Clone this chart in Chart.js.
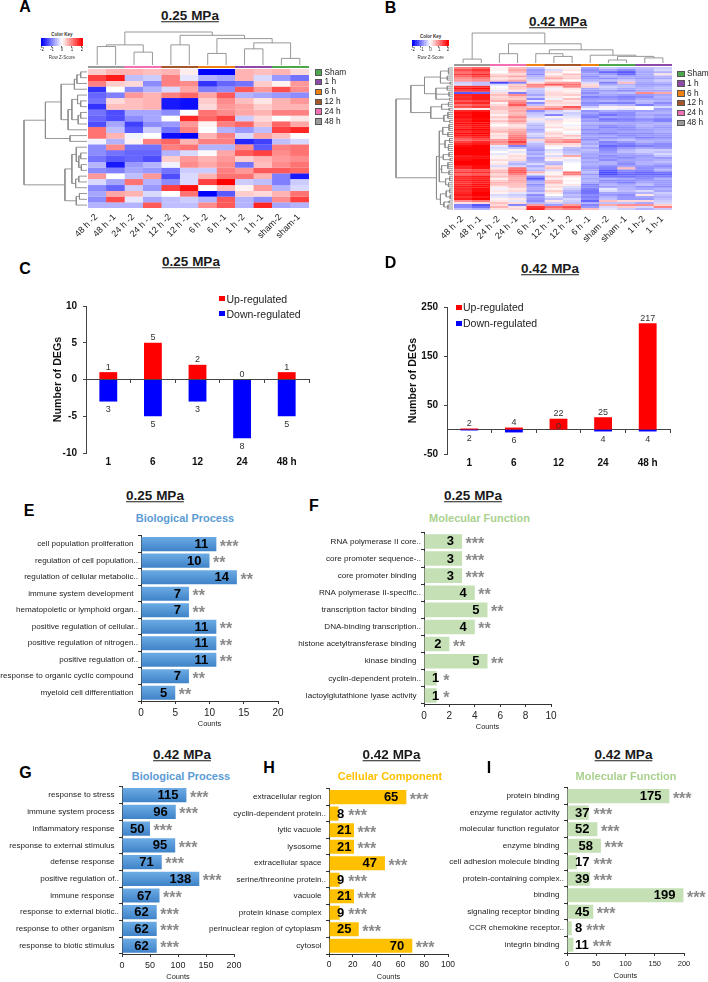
<!DOCTYPE html>
<html>
<head>
<meta charset="utf-8">
<title>DEG figure</title>
<script src="https://cdn.jsdelivr.net/npm/chart.js@4"></script>
<style>
  html, body { margin: 0; padding: 0; background: #fff; }
  #page { position: relative; width: 708px; height: 982px; overflow: hidden; font-family: "Liberation Sans", Arial, sans-serif; color: #111; }
  #page canvas { position: absolute; }
  .txt { position: absolute; white-space: nowrap; line-height: 1; transform: translate(-50%, -50%); }
  .letter { font-size: 16px; font-weight: bold; color: #000; }
  .mpa { font-size: 13.5px; font-weight: bold; text-decoration: underline; color: #1a1a1a; }
  .sub { font-size: 11px; font-weight: bold; }
  .leg { position: absolute; white-space: nowrap; line-height: 1; transform: translateY(-50%); }
  .box { position: absolute; }
</style>
</head>
<body>
<div id="page"></div>
<script>
// ===== Panel A/B heatmaps =====
const columnsA = ['48 h -2', '48 h -1', '24 h -2', '24 h -1', '12 h -2', '12 h -1', '6 h -2', '6 h -1', '1 h -2', '1 h -1', 'sham-2', 'sham-1'];
const groupsA = ['48 h', '48 h', '24 h', '24 h', '12 h', '12 h', '6 h', '6 h', '1 h', '1 h', 'Sham', 'Sham'];
const zScoresA = [
  [0.4, 0.6, 0.6, 0.5, 0.6, 0.15, -2, -2, 0.6, 0.5, 0.6, 0.3],
  [1.5, 1.8, -0.5, -0.4, 1.0, -0.2, -0.6, -0.7, 0.6, -0.3, -0.8, -1.1],
  [1.0, 0.4, 0.3, -0.9, 1.0, 0.9, -1.6, -1.2, -1.1, 0.4, 0.1, 0.8],
  [-1.6, 0, -0.9, -0.6, -0.3, 0.7, -1.0, -0.9, 1.3, 0.8, 1.4, 0.9],
  [-1.2, -1.0, 0.8, 0.6, 1.0, 1.2, 0.7, 1.3, -0.6, -0.7, -0.8, -0.9],
  [-1.1, 0.3, 0.5, 0.6, -1.8, -1.9, 0.4, 0.9, 0.5, 0.2, 0.6, 0.8],
  [-1.6, 0.5, 0.5, 0.6, -1.8, -1.9, 0.3, 0.8, 0.7, 0.4, 0.6, 0.6],
  [-1.1, -1.4, -0.7, -0.7, -0.9, 0, 1.1, 0.9, 0.7, 0.6, 1.0, 1.0],
  [-1.2, -1.4, -0.9, -0.7, 0, 1.7, 1.2, 1.5, -0.4, 0.3, 0, 0.2],
  [-1.4, -0.7, -1.5, -0.9, -0.8, 0.8, 0.1, 1.0, 1.2, 0.5, 1.2, 0.7],
  [1.1, -0.5, -1.3, -0.4, -1.1, 1.0, 0, -0.6, -0.8, -0.5, 1.5, 1.7],
  [1.1, 0.6, -0.1, 0, -1.9, -2, 0.6, 1.0, -0.3, 0.7, 0.5, 0],
  [-0.1, -0.6, 0.1, 1.0, 1.2, 0.6, 1.0, 1.0, -1.7, -1.5, -0.5, -0.3],
  [-0.9, 0.9, -1.1, -1.1, 1.0, 1.1, -0.6, -0.6, 0.9, -1.3, 1.0, 1.1],
  [-0.9, -1.1, -1.2, -1.2, -0.6, -0.3, 0.05, 0.7, 1.3, 1.5, 0.9, 1.1],
  [-1.1, -1.3, -1.2, -1.4, 0.4, 0.8, 0.6, 0.8, 0.4, 0.6, 0.8, 0.9],
  [-0.6, -1.8, -0.8, -0.6, -0.1, 0.9, 0.7, 0.9, -1.1, 0.5, 0.9, 1.1],
  [-0.9, -1.0, -0.7, -0.8, -1.1, -0.4, -0.4, 1.0, 0.8, 1.3, 1.3, 1.2],
  [0.8, 0, -0.5, 0.8, -1.4, -0.3, 0.6, 1.1, 1.1, 0.6, -1.0, -1.8],
  [-0.3, -0.7, 1.1, -0.6, -0.9, -0.3, 1.5, 2, -0.4, -0.5, -1.0, -0.4],
  [-0.9, -1.2, -0.4, -0.8, 1.5, 1.9, 0, 0.5, 0.1, 0.8, -0.6, -0.3],
  [-0.7, 0.7, 0.6, -0.3, 0, 1.1, -2, -1.3, 0.4, 0.3, 0.6, 1.1],
  [-0.9, 1.4, -0.2, -0.7, -0.5, -0.4, -0.6, 1.3, -0.6, -0.9, 0.9, 1.5],
  [-0.6, -0.6, -0.6, 1.3, -0.5, -0.5, 0.9, 1.3, -0.6, 1.7, -0.7, -0.6]
];
const columnsB = ['48 h -2', '48 h -1', '24 h -2', '24 h -1', '6 h -2', '12 h -1', '12 h -2', '6 h -1', 'sham -2', 'sham -1', '1 h-2', '1 h-1'];
const groupsB = ['48 h', '48 h', '24 h', '24 h', '6 h', '12 h', '12 h', '6 h', 'Sham', 'Sham', '1 h', '1 h'];
const zScoresB = [
  [1.0, 1.2, 0.1, 0.5, -0.5, 0.1, 0.1, -0.7, -0.4, -0.5, -0.5, -0.4],
  [1.4, 1.6, 0.1, 0.7, -0.8, -0.3, 0.2, -0.9, -0.7, -0.9, -0.6, -0.3],
  [1.1, 1.3, 0.0, 0.5, -0.7, 0.3, 0.0, -0.8, -1.2, -1.3, -0.7, -0.6],
  [1.5, 1.7, 0.3, 0.3, -0.9, 0.1, 0.5, -0.7, -0.8, -1.2, -0.7, 0.2],
  [1.2, 1.5, 0.5, 0.7, -0.6, 0.4, 0.3, -0.9, -0.6, -0.7, -0.7, -0.6],
  [0.9, 1.1, 0.2, 0.3, -0.5, 0.7, 0.4, -0.8, -0.9, -0.7, -0.8, -0.7],
  [0.8, 0.9, 0.4, 0.7, -0.3, 0.2, 0.0, -0.6, -0.5, -0.4, -0.6, -0.4],
  [-0.4, -0.5, -1.5, -1.0, 0.2, 0.7, 0.8, -0.3, -1.0, 0.5, -0.7, -0.6],
  [-0.3, -0.5, -0.3, 0.4, 1.0, 1.3, 1.1, 0.3, -0.7, -0.6, -0.8, -0.8],
  [1.7, 1.7, 0.0, 0.5, 0.9, 0.3, 1.0, 0.4, -0.4, -0.5, -0.7, -0.6],
  [1.8, 1.9, 0.1, 0.4, -0.4, -0.1, 0.2, -0.7, -0.5, -0.7, -0.6, -0.5],
  [1.5, 1.6, -0.2, 0.2, -0.5, 0.2, 0.1, -0.8, -0.8, -0.9, -0.7, -0.7],
  [-1.3, -1.2, 0.3, -1.0, -0.5, 0.3, 0.2, -0.9, -0.6, -0.5, 0.9, 0.7],
  [1.7, 1.8, 0.5, 0.9, -0.7, 0.3, 0.4, -0.7, -0.7, -0.8, -0.8, -0.7],
  [1.6, 1.8, 0.3, 0.5, -0.4, 0.2, 0.1, -1.0, -0.9, -1.0, -0.9, -0.6],
  [1.7, 1.8, 0.4, 0.4, -0.9, -0.1, 0.5, -0.8, -0.8, -0.9, -0.7, -0.7],
  [1.3, 1.5, 0.6, 0.8, -0.2, 0.4, 0.2, -0.7, -0.6, -0.7, -0.5, -0.6],
  [1.6, 1.7, 0.1, 1.0, -0.9, 0.3, 0.3, -0.9, -1.0, -1.0, -0.6, -0.9],
  [1.1, 1.3, 0.3, 1.3, -0.5, 0.2, 0.2, -0.8, -0.5, -0.6, -1.0, -0.7],
  [1.4, 1.6, 0.5, 0.7, 0.5, 0.7, 1.4, -0.4, 0.1, 0.1, 0.0, -0.3],
  [0.2, 0.1, 0.5, 0.6, 0.9, 1.1, 0.8, -0.1, -0.1, -0.2, 0.0, -0.8],
  [1.8, 1.9, 0.3, 0.7, -0.9, -0.4, -0.2, -0.9, -0.7, -0.8, -0.8, -0.7],
  [1.9, 2.0, 0.3, 0.5, -0.5, -0.3, -0.4, -0.7, -0.9, -0.9, -0.6, -0.6],
  [1.8, 2.0, 0.1, 0.6, -0.4, -1.0, -0.3, -0.9, -1.1, -0.9, -0.7, -0.8],
  [1.9, 2.0, 0.4, 0.9, -0.3, 0.1, -0.2, -1.0, -0.7, -0.8, -0.6, -0.7],
  [1.7, 1.9, 0.2, 0.6, 0.2, -0.3, 0.1, -0.7, -1.1, -1.0, -0.9, -1.0],
  [1.8, 2.0, 0.5, 0.8, -0.2, 0.3, 0.1, -0.8, -0.9, -0.9, -0.8, -1.0],
  [1.9, 2.0, 0.2, 0.5, -0.4, 0.2, 0.0, -0.6, -0.6, -0.7, -0.7, -0.6],
  [1.8, 1.9, 0.0, 0.2, -0.6, 0.1, -0.1, -0.8, -0.9, -0.8, -0.6, -0.7],
  [1.7, 1.9, 0.3, 0.3, -0.5, 0.3, 0.1, -0.7, -1.0, -0.9, -0.7, -0.8],
  [1.9, 2.0, 0.4, 0.6, -0.7, 0.0, 0.2, -0.9, -0.8, -0.9, -0.8, -0.7],
  [1.6, 1.8, 0.6, 0.7, -0.6, 0.2, 0.0, -0.7, -0.8, -0.7, -0.7, -0.6],
  [1.9, 2.0, 0.2, 0.8, -0.3, 0.4, -0.1, -0.9, -1.0, -0.9, -0.9, -0.8],
  [1.8, 1.9, 0.3, 1.0, -0.4, 0.2, 0.5, -0.7, -0.7, -0.9, -0.8, -0.8],
  [1.5, 1.7, 0.2, 1.1, -0.6, 0.5, 0.2, -0.8, -0.9, -0.8, -1.0, -0.9],
  [1.2, 1.4, 0.8, 1.2, 0.4, 0.7, 0.9, -0.9, -0.6, -0.5, -0.7, -0.7],
  [1.5, 1.7, 0.9, 1.5, -0.3, 0.8, 1.0, -0.6, -1.0, -0.8, -0.6, -0.7],
  [1.7, 1.8, 0.7, 1.1, -0.5, 0.4, 0.3, -0.7, -0.9, -1.0, -0.8, -0.9],
  [1.9, 2.0, -0.2, -1.0, -0.6, 0.1, 0.2, -0.5, -1.2, -1.1, -1.0, -0.9],
  [2.0, 2.0, -0.3, -0.5, -0.7, 0.0, -0.5, -0.7, -1.0, -0.8, -0.7, -0.8],
  [2.0, 2.0, -0.2, 0.1, -0.8, -0.3, -0.6, -0.5, -0.9, -0.6, -0.4, -0.4],
  [2.0, 2.0, 0.0, -0.2, -0.6, -0.2, -0.5, -0.6, -0.8, -0.5, -0.4, -0.5],
  [2.0, 2.0, -0.2, 0.1, -0.7, 0.1, -0.4, -0.7, -0.7, -0.7, -0.6, -0.3],
  [1.8, 1.9, 0.1, 0.3, -0.5, -0.3, 0.7, -0.7, -0.9, -0.8, -0.8, -0.5],
  [1.9, 1.9, 0.1, 0.2, -0.8, 0.2, 0.1, -0.8, -0.8, -0.9, -0.7, -0.8],
  [1.9, 2.0, 0.3, 0.3, -0.7, 0.1, -0.2, -0.6, -0.9, -0.7, -0.7, -0.6],
  [2.0, 2.0, 0.1, -0.4, -0.6, -0.5, -0.1, -0.7, -0.6, -0.8, -0.6, -0.5],
  [2.0, 2.0, 0.2, -0.6, -0.3, -0.6, 0.0, -0.6, -0.6, -0.9, -0.6, -0.7],
  [1.7, 1.9, -0.3, -0.3, -0.7, 0.3, 0.0, -0.7, -0.9, -0.7, -0.8, -0.9],
  [1.7, 1.9, 0.2, 1.1, -0.4, 0.5, 0.0, -0.8, -1.0, 0.5, -0.9, -0.7],
  [1.3, 1.4, 0.5, 1.3, -0.6, -0.3, 0.0, -0.7, -1.3, -0.9, -1.0, -0.6],
  [1.6, 1.7, 0.6, 1.3, 0.6, 0.1, 1.1, -0.5, -1.4, -1.1, -1.2, -1.1],
  [1.2, 1.3, 0.3, 1.0, -0.2, 0.1, 1.0, -0.8, -1.4, -1.2, -1.2, -1.2],
  [1.7, 1.8, 0.5, 0.7, -0.9, 0.4, 0.2, -0.6, -1.1, -1.1, -1.0, -1.0],
  [1.6, 1.7, 0.1, 0.6, -1.3, 0.1, 0.0, -0.7, -0.6, -0.7, -0.9, -0.6],
  [1.7, 1.8, 0.4, 0.7, -0.8, 0.5, 0.1, -0.6, -0.9, -0.9, -0.8, -0.8],
  [1.6, 1.8, 0.6, 0.6, -0.6, 0.6, 0.0, -0.7, -0.8, -1.0, -0.7, -0.8],
  [1.7, 1.9, 0.5, 0.5, -0.9, 0.2, 0.2, -1.0, -0.6, -0.7, -0.5, -0.8],
  [1.8, 1.9, 0.2, 0.5, -0.7, 0.3, -0.3, -0.9, -0.8, -0.7, -0.9, -0.9],
  [1.7, 1.9, -0.1, 0.2, -0.6, 0.1, -0.4, -1.0, -0.2, -0.6, -0.7, -0.6],
  [1.6, 1.9, 0.2, 0.3, -0.7, 0.4, -0.6, -1.1, -0.3, -0.5, -0.3, -0.7],
  [1.7, 2.0, 0.1, -0.2, -0.4, 0.2, -0.7, -1.1, -0.7, -0.7, -0.6, -0.4],
  [1.8, 2.0, -0.3, -0.4, -0.9, 0.0, -0.5, -0.9, -0.8, -0.9, 0.2, -0.5],
  [1.6, 1.8, -0.2, -0.3, -0.7, -0.3, -0.6, -1.0, -0.6, -0.8, -0.7, -0.6],
  [1.8, 2.0, 0.1, 0.2, -0.8, -0.5, -0.3, -0.9, -0.5, -0.8, -0.8, -0.5],
  [0.9, 1.1, 0.2, -0.2, -0.9, 0.2, -0.4, -1.2, 0.5, 0.3, 0.3, -0.4],
  [0.2, 0.3, 0.5, 0.3, -0.6, -0.4, -0.5, -0.6, -0.5, -0.5, -0.7, -0.3],
  [-1.0, -1.4, 0.3, -1.0, 0.8, -0.8, 0.8, -1.0, 0.7, 0.9, 0.9, 0.4],
  [-0.9, -1.1, 0.6, 0.2, 1.6, 1.2, 1.4, -0.8, -0.3, 0.4, -0.3, 1.0],
  [-0.5, -0.6, 0.2, 0.3, 1.7, 0.8, 1.0, 0.5, -0.2, -0.4, -0.6, -0.4]
];

// ===== Dendrograms: [height, child, child, ...], a number is a leaf (1 based) =====
const topTreeA = [1,
  [0.61, [0.56, 1, 2], [0.39, 3, 4]],
  [0.9, [0.61, 5, 6],
    [0.8, [0.35, 7, 8], [0.67, [0.49, 9, 10], [0.2, 11, 12]]]]
];
const leftTreeA = [1,
  [0.66,
    [0.41,
      [0.2, [0.16, [0.1, 1, 2], 3], 4],
      [0.3, [0.24, [0.15, 5, [0.1, 6, 7]], [0.14, [0.1, 8, 9], 10]], 11]],
    [0.27, 12, 13]],
  [0.35,
    [0.24,
      [0.17, 14, [0.13, [0.1, 15, 16], [0.09, 17, 18]]],
      [0.18, [0.13, 19, 20], 21]],
    [0.17, [0.12, 22, 23], 24]]
];
const topTreeB = [1,
  [0.13, 1, 2],
  [0.64, [0.31, 3, 4],
    [0.44, [0.31, 5, [0.22, 6, 7]],
      [0.26, 8, [0.22, [0.1, 9, 10], [0.17, 11, 12]]]]]
];
const leftTreeB = [1,
  [0.74,
    [0.5,
      [0.22, [0.08, 1, 2, 3, 4], [0.1, 5, 6, 7], [0.05, 8, 9]],
      [0.3, [0.1, 10, 11, 12], [0.07, 13, 14, 15], [0.06, 16, 17]]],
    [0.39,
      [0.2, [0.08, 18, 19, 20], [0.07, 21, 22]],
      [0.16, [0.09, 23, 24, 25, 26], [0.06, 27, 28]]]],
  [0.29,
    [0.24,
      [0.18, [0.07, 29, 30, 31, 32], [0.09, 33, 34, 35]],
      [0.14, [0.06, 36, 37, 38], [0.08, 39, 40, 41, 42]],
      [0.17, [0.07, 43, 44, 45], [0.05, 46, 47]],
      [0.2, [0.09, 48, 49, 50, 51], [0.07, 52, 53, 54]],
      [0.13, [0.06, 55, 56, 57], [0.08, 58, 59, 60]]],
    [0.22,
      [0.12, [0.06, 61, 62, 63], [0.05, 64, 65, 66]],
      [0.16, [0.07, 67, 68], [0.09, 69, 70, 71]]]]
];

// ===== Colour key and heatmap legend =====
const keySteps = [-2, -1.8, -1.6, -1.4, -1.2, -1, -0.8, -0.6, -0.4, -0.2, 0, 0.2, 0.4, 0.6, 0.8, 1, 1.2, 1.4, 1.6, 1.8, 2];
const groupNames = ['Sham', '1 h', '6 h', '12 h', '24 h', '48 h'];
const groupColors = ['#4ca64c', '#8e4aa8', '#f08010', '#a5562a', '#f56fb4', '#9a9a9a'];

// ===== Panel C/D: DEG counts =====
const hours = ['1', '6', '12', '24', '48 h'];
const upC = [1, 5, 2, 0, 1];
const downC = [3, 5, 3, 8, 5];
const upD = [2, 4, 22, 25, 217];
const downD = [2, 6, 0, 4, 4];

// ===== Panel E-I: GO terms =====
const termsE = ['cell population proliferation', 'regulation of cell population..', 'regulation of cellular metabolic..', 'immune system development', 'hematopoietic or lymphoid organ..', 'positive regulation of cellular..', 'positive regulation of nitrogen..', 'positive regulation of..', 'response to organic cyclic compound', 'myeloid cell differentiation'];
const countsE = [11, 10, 14, 7, 7, 11, 11, 11, 7, 5];
const starsE = [3, 2, 2, 2, 2, 2, 2, 2, 2, 2];
const termsF = ['RNA polymerase II core..', 'core promoter sequence-..', 'core promoter binding', 'RNA polymerase II-specific..', 'transcription factor binding', 'DNA-binding transcription..', 'histone acetyltransferase binding', 'kinase binding', 'cyclin-dependent protein..', 'lactoylglutathione lyase activity'];
const countsF = [3, 3, 3, 4, 5, 4, 2, 5, 1, 1];
const starsF = [3, 3, 3, 2, 2, 2, 2, 2, 1, 1];
const termsG = ['response to stress', 'immune system process', 'inflammatory response', 'response to external stimulus', 'defense response', 'positive regulation of..', 'immune response', 'response to external biotic..', 'response to other organism', 'response to biotic stimulus'];
const countsG = [115, 96, 50, 95, 71, 138, 67, 62, 62, 62];
const termsH = ['extracellular region', 'cyclin-dependent protein..', 'lytic vacuole', 'lysosome', 'extracellular space', 'serine/threonine protein..', 'vacuole', 'protein kinase complex', 'perinuclear region of cytoplasm', 'cytosol'];
const countsH = [65, 8, 21, 21, 47, 9, 21, 9, 25, 70];
const termsI = ['protein binding', 'enzyme regulator activity', 'molecular function regulator', 'enzyme binding', 'cell adhesion molecule binding', 'protein-containing complex..', 'binding', 'signaling receptor binding', 'CCR chemokine receptor..', 'integrin binding'];
const countsI = [175, 37, 52, 58, 17, 39, 199, 45, 8, 11];
const allThree = [3, 3, 3, 3, 3, 3, 3, 3, 3, 3];

// ===== Helpers =====
const page = document.getElementById('page');
const FONT = '"Liberation Sans", Arial, sans-serif';
Chart.defaults.font.family = FONT;
Chart.defaults.animation = false;
Chart.defaults.responsive = false;
Chart.defaults.devicePixelRatio = 1;
Chart.defaults.plugins.legend.display = false;
Chart.defaults.plugins.tooltip.enabled = false;

const addText = (cls, text, x, y, style = {}) => {
    const el = document.createElement('div');
    el.className = cls;
    el.textContent = text;
    el.style.left = x + 'px';
    el.style.top = y + 'px';
    Object.assign(el.style, style);
    page.appendChild(el);
    return el;
};

const addCanvas = (x, y, w, h) => {
    const c = document.createElement('canvas');
    c.width = w;
    c.height = h;
    c.style.left = x + 'px';
    c.style.top = y + 'px';
    page.appendChild(c);
    return c;
};

const zColor = (z) => {
    const t = Math.min(Math.abs(z) / 2, 1);
    const fade = Math.round(255 * (1 - t));
    return z < 0 ? `rgb(${fade},${fade},255)` : `rgb(255,${fade},${fade})`;
};

// flatten a dendrogram into line points, gaps are null points
const treeLines = (node, out) => {
    if (typeof node === 'number') return { pos: node - 0.5, h: 0 };
    const [h, ...children] = node;
    const kids = children.map(k => treeLines(k, out));
    kids.forEach(k => out.push({ pos: k.pos, h: k.h }, { pos: k.pos, h }, { pos: null, h: null }));
    out.push({ pos: kids[0].pos, h }, { pos: kids[kids.length - 1].pos, h }, { pos: null, h: null });
    return { pos: (kids[0].pos + kids[kids.length - 1].pos) / 2, h };
};

const drawTree = (tree, leaves, horizontal, x0, y0, x1, y1) => {
    const pts = [];
    treeLines(tree, pts);
    const data = pts.map(p => horizontal ? { x: p.h, y: p.pos } : { x: p.pos, y: p.h });
    const c = addCanvas(x0 - 1, y0 - 1, x1 - x0 + 2, y1 - y0 + 2);
    const scaleOff = { display: false };
    new Chart(c, {
        type: 'scatter',
        data: { datasets: [{ data, showLine: true, spanGaps: false, pointRadius: 0, borderColor: '#8c8c8c', borderWidth: 0.9, clip: false }] },
        options: {
            layout: { padding: 1 },
            scales: horizontal
                ? { x: { ...scaleOff, min: 0, max: 1, reverse: true }, y: { ...scaleOff, min: 0, max: leaves, reverse: true } }
                : { x: { ...scaleOff, min: 0, max: leaves }, y: { ...scaleOff, min: 0, max: 1 } }
        }
    });
};

const drawHeatmap = (rows, columns, x0, y0, x1, y1) => {
    const pad = 34;
    const bottom = 44;
    const c = addCanvas(x0 - pad, y0, x1 - x0 + pad + 6, y1 - y0 + bottom);
    c.style.filter = 'blur(0.5px)';
    new Chart(c, {
        type: 'bar',
        data: {
            labels: columns,
            datasets: rows.map(r => ({
                data: r.map(() => 1),
                backgroundColor: r.map(zColor),
                borderColor: r.map(zColor),
                borderWidth: 0.4,
                barPercentage: 1,
                categoryPercentage: 1
            }))
        },
        options: {
            layout: { padding: { left: pad, right: 6, top: 0, bottom: 0 } },
            scales: {
                x: {
                    stacked: true,
                    border: { display: false },
                    grid: { display: false, drawTicks: false },
                    ticks: { autoSkip: false, minRotation: 45, maxRotation: 45, padding: 4, labelOffset: -1, color: '#222', font: { size: 9 } },
                    afterFit: s => { s.height = bottom; }
                },
                y: { stacked: true, display: false, min: 0, max: rows.length, reverse: true }
            }
        }
    });
};

const drawStrip = (groups, x0, y0, x1, y1) => {
    const c = addCanvas(x0, y0, x1 - x0, y1 - y0);
    new Chart(c, {
        type: 'bar',
        data: {
            labels: groups,
            datasets: [{
                data: groups.map(() => 1),
                backgroundColor: groups.map(g => groupColors[groupNames.indexOf(g)]),
                barPercentage: 1,
                categoryPercentage: 1
            }]
        },
        options: { scales: { x: { display: false }, y: { display: false, min: 0, max: 1 } } }
    });
};

const drawKey = (x0, y0, x1, y1) => {
    const c = addCanvas(x0 - 4, y0, x1 - x0 + 8, y1 - y0 + 9);
    new Chart(c, {
        type: 'bar',
        data: {
            labels: keySteps,
            datasets: [{ data: keySteps.map(() => 1), backgroundColor: keySteps.map(zColor), borderColor: keySteps.map(zColor), borderWidth: 0.4, barPercentage: 1, categoryPercentage: 1 }]
        },
        options: {
            layout: { padding: { left: 4, right: 4 } },
            scales: {
                x: {
                    border: { display: false },
                    grid: { drawOnChartArea: false, tickLength: 1.5, color: c => (Number.isInteger(keySteps[c.index]) ? '#666' : 'transparent') },
                    ticks: { autoSkip: false, maxRotation: 0, padding: 0, color: '#333', font: { size: 4.5 }, callback: (v, i) => (Number.isInteger(keySteps[i]) ? keySteps[i] : '') },
                    afterFit: s => { s.height = 9; }
                },
                y: { display: false, min: 0, max: 1 }
            }
        }
    });
    const mid = (x0 + x1) / 2;
    addText('txt', 'Color Key', mid, y0 - 3.5, { fontSize: '4.5px', fontWeight: 'bold', color: '#333' });
    addText('txt', 'Row Z-Score', mid, y1 + 11.5, { fontSize: '4.5px', color: '#333' });
};

const addGroupLegend = (x, y, gap) => {
    groupNames.forEach((name, i) => {
        const sw = document.createElement('div');
        sw.className = 'box';
        Object.assign(sw.style, { left: x + 'px', top: (y + i * gap - 2.5) + 'px', width: '5.5px', height: '4.5px', background: groupColors[i], border: '0.6px solid #555' });
        page.appendChild(sw);
        addText('leg', name, x + 10, y + i * gap, { fontSize: '8.3px', color: '#222' });
    });
};

// count labels above and below the diverging bars
const degLabelPlugin = (up, down) => ({
    id: 'degLabels',
    afterDatasetsDraw(chart) {
        const { ctx } = chart;
        ctx.save();
        ctx.font = `9px ${FONT}`;
        ctx.fillStyle = '#333';
        ctx.textAlign = 'center';
        ctx.textBaseline = 'middle';
        chart.getDatasetMeta(0).data.forEach((bar, i) => ctx.fillText(up[i], bar.x, Math.min(bar.y, bar.base) - 5));
        chart.getDatasetMeta(1).data.forEach((bar, i) => ctx.fillText(down[i], bar.x, Math.max(bar.y, bar.base) + 8));
        ctx.restore();
    }
});

const drawDeg = (up, down, yMin, yMax, yStep, axisW, x0, y0, x1, y1) => {
    const bottom = 20;
    const topPad = 14;
    const c = addCanvas(x0 - axisW, y0 - topPad, x1 - x0 + axisW + 4, y1 - y0 + bottom + topPad);
    new Chart(c, {
        type: 'bar',
        data: {
            labels: hours,
            datasets: [
                { data: up, backgroundColor: '#ff0000', barPercentage: 0.5, categoryPercentage: 0.8 },
                { data: down.map(v => -v), backgroundColor: '#0000ff', barPercentage: 0.5, categoryPercentage: 0.8 }
            ]
        },
        options: {
            layout: { padding: { top: topPad, right: 4 } },
            scales: {
                x: {
                    stacked: true,
                    border: { display: false },
                    grid: { display: false, drawTicks: false },
                    ticks: { color: '#111', padding: 3, maxRotation: 0, font: { size: 10, weight: 'bold' } },
                    afterFit: s => { s.height = bottom; }
                },
                zero: {
                    type: 'category',
                    axis: 'x',
                    labels: hours,
                    position: { y: 0 },
                    z: 1,
                    border: { color: '#444', width: 1 },
                    grid: { offset: true, drawOnChartArea: false, tickLength: 3, color: '#444' },
                    ticks: { display: false }
                },
                y: {
                    stacked: true,
                    min: yMin,
                    max: yMax,
                    border: { color: '#444', width: 1 },
                    grid: { drawOnChartArea: false, tickLength: 3, color: '#444' },
                    ticks: { stepSize: yStep, padding: 6, color: '#111', font: { size: 10, weight: 'bold' } },
                    title: { display: true, text: 'Number of DEGs', color: '#111', padding: 0, font: { size: 10.7, weight: 'bold' } },
                    afterFit: s => { s.width = axisW; }
                }
            }
        },
        plugins: [degLabelPlugin(up, down)]
    });
};

const addDegLegend = (x, y1, y2) => {
    [['Up-regulated', '#ff0000', y1], ['Down-regulated', '#0000ff', y2]].forEach(([name, col, y]) => {
        const sw = document.createElement('div');
        sw.className = 'box';
        Object.assign(sw.style, { left: x + 'px', top: (y - 2.5) + 'px', width: '6px', height: '5px', background: col });
        page.appendChild(sw);
        addText('leg', name, x + 7.5, y, { fontSize: '10.5px', color: '#222' });
    });
};

// bold count inside the bar, grey stars after it
const goLabelPlugin = (counts, stars) => ({
    id: 'goLabels',
    afterDatasetsDraw(chart) {
        const { ctx, chartArea } = chart;
        ctx.save();
        ctx.textBaseline = 'middle';
        chart.getDatasetMeta(0).data.forEach((bar, i) => {
            const text = String(counts[i]);
            ctx.font = `bold 13px ${FONT}`;
            const w = ctx.measureText(text).width;
            const right = Math.max(bar.x - 8, chartArea.left + 8 + w);
            ctx.fillStyle = '#000';
            ctx.textAlign = 'right';
            ctx.fillText(text, right, bar.y + 0.5);
            ctx.font = `bold 16px ${FONT}`;
            ctx.fillStyle = '#8a8a8a';
            ctx.textAlign = 'left';
            ctx.fillText('*'.repeat(stars[i]), Math.max(bar.x + 3.5, right + 4), bar.y + 3);
        });
        ctx.restore();
    }
});

// blue bars carry a light-to-dark gradient, built once the scales are laid out
const gradientPlugin = (grads) => ({
    id: 'barGradient',
    afterLayout(chart) {
        chart.data.labels.forEach((l, i) => {
            const y = chart.scales.y.getPixelForValue(i);
            const g = chart.ctx.createLinearGradient(0, y - 7, 0, y + 7);
            g.addColorStop(0, '#6cabe4');
            g.addColorStop(1, '#3f83c8');
            grads[i] = g;
        });
    }
});

const drawGo = (terms, counts, stars, xMax, xStep, fill, tickSize, axisW, x0, y0, x1, y1) => {
    const bottom = 27;
    const rightPad = 26;
    const grads = [];
    const isBlue = fill === 'blue';
    const c = addCanvas(x0 - axisW, y0 - 4, x1 - x0 + axisW + rightPad, y1 - y0 + bottom + 4);
    new Chart(c, {
        type: 'bar',
        data: {
            labels: terms,
            datasets: [{
                data: counts,
                backgroundColor: isBlue ? (ctx) => grads[ctx.dataIndex] || '#5b9bd5' : fill,
                barPercentage: 1,
                categoryPercentage: 0.85
            }]
        },
        options: {
            indexAxis: 'y',
            layout: { padding: { top: 4, right: rightPad } },
            scales: {
                x: {
                    min: 0,
                    max: xMax,
                    border: { color: '#333', width: 1 },
                    grid: { drawOnChartArea: false, tickLength: 3, color: '#333' },
                    ticks: { stepSize: xStep, maxRotation: 0, padding: 3, color: '#222', font: { size: tickSize } },
                    title: { display: true, text: 'Counts', color: '#222', padding: 0, font: { size: 7.4 } },
                    afterFit: s => { s.height = bottom; }
                },
                y: {
                    border: { color: '#333', width: 1 },
                    grid: { offset: true, drawOnChartArea: false, tickLength: 3, color: '#333' },
                    ticks: {
                        autoSkip: false,
                        padding: 0,
                        color: '#222',
                        font: { size: 8.1 },
                        callback: (v, i) => (terms[i].endsWith('..') ? terms[i] : terms[i] + '  ')
                    },
                    afterFit: s => { s.width = axisW; }
                }
            }
        },
        plugins: [goLabelPlugin(counts, stars), gradientPlugin(grads)]
    });
};

// ===== Panel A =====
addText('txt letter', 'A', 25, 7);
addText('txt mpa', '0.25 MPa', 190, 15.5);
drawTree(topTreeA, 12, false, 87.5, 32, 309, 65);
drawTree(leftTreeA, 24, true, 24, 69, 87.5, 208.5);
drawStrip(groupsA, 87.5, 65.5, 309, 67.5);
drawHeatmap(zScoresA, columnsA, 87.5, 69, 309, 208.5);
drawKey(41, 38, 83, 46);
addGroupLegend(314.5, 71.5, 9.85);

// ===== Panel B =====
addText('txt letter', 'B', 390.5, 8);
addText('txt mpa', '0.42 MPa', 558, 22);
drawTree(topTreeB, 12, false, 453.5, 33, 671.5, 63.5);
drawTree(leftTreeB, 71, true, 396, 66.5, 453.5, 209.5);
drawStrip(groupsB, 453.5, 64, 671.5, 66);
drawHeatmap(zScoresB, columnsB, 453.5, 66.5, 671.5, 209.5);
drawKey(412, 40, 449.5, 46.5);
addGroupLegend(677, 73, 9.8);

// ===== Panel C =====
addText('txt letter', 'C', 25, 269);
addText('txt mpa', '0.25 MPa', 191, 262);
drawDeg(upC, downC, -10, 10, 5, 34, 86, 305.5, 309.5, 452.5);
addDegLegend(219, 298.5, 313.5);

// ===== Panel D =====
addText('txt letter', 'D', 390.5, 263);
addText('txt mpa', '0.42 MPa', 550, 269);
drawDeg(upD, downD, -50, 250, 100, 40, 447, 306.5, 670.5, 453.5);
addDegLegend(455.5, 307, 323);

// ===== Panel E/F =====
addText('txt letter', 'E', 29, 511);
addText('txt mpa', '0.25 MPa', 155, 495.5);
addText('txt sub', 'Biological Process', 185, 517.5, { color: '#5b9bd5' });
drawGo(termsE, countsE, starsE, 20, 5, 'blue', 10, 141, 141, 535, 278.5, 701);

addText('txt letter', 'F', 314, 506);
addText('txt mpa', '0.25 MPa', 473, 495.5);
addText('txt sub', 'Molecular Function', 479.5, 517.5, { color: '#a9d18e' });
drawGo(termsF, countsF, starsF, 10, 2, '#c5e0b4', 10, 135, 423.5, 531.5, 550.5, 703.5);

// ===== Panel G/H/I =====
addText('txt letter', 'G', 25.5, 773);
addText('txt mpa', '0.42 MPa', 182, 755);
addText('txt sub', 'Biological Process', 181, 776, { color: '#5b9bd5' });
drawGo(termsG, countsG, allThree, 200, 50, 'blue', 9, 121, 121.5, 786, 234, 954);

addText('txt letter', 'H', 269, 768);
addText('txt mpa', '0.42 MPa', 391.5, 755);
addText('txt sub', 'Cellular Component', 390, 776, { color: '#ffc000' });
drawGo(termsH, countsH, allThree, 100, 20, '#ffc000', 8.5, 130, 329, 788, 448.5, 954);

addText('txt letter', 'I', 489, 768);
addText('txt mpa', '0.42 MPa', 623.5, 755);
addText('txt sub', 'Molecular Function', 626, 776, { color: '#a9d18e' });
drawGo(termsI, countsI, allThree, 200, 50, '#c5e0b4', 7.5, 128, 567, 787, 684.5, 953);
</script>
</body>
</html>
